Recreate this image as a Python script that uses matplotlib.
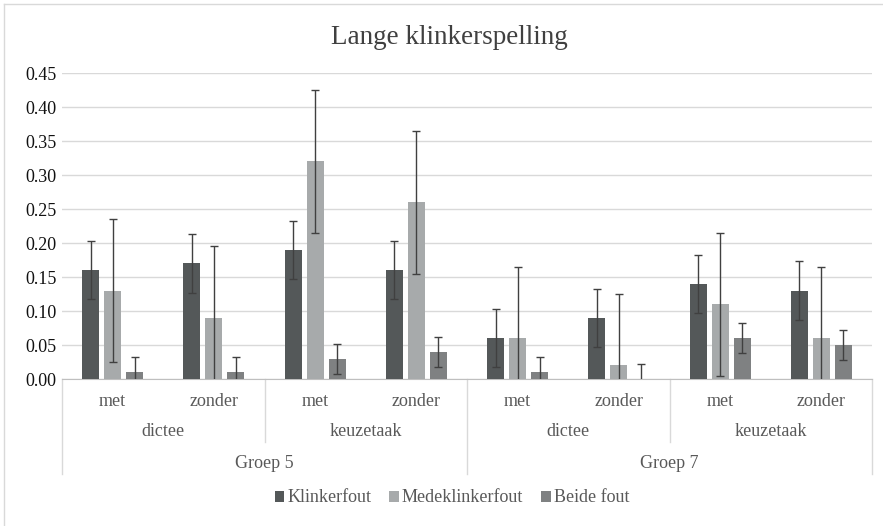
import numpy as np
import matplotlib
matplotlib.use('Agg')
import matplotlib.pyplot as plt
from matplotlib.patches import Patch
from matplotlib.lines import Line2D

# Gegevens
groepen = ['Groep 5', 'Groep 7']
taken = ['dictee', 'keuzetaak']
condities = ['met', 'zonder']
series = ['Klinkerfout', 'Medeklinkerfout', 'Beide fout']

klinkerfout = [0.16, 0.17, 0.19, 0.16, 0.06, 0.09, 0.14, 0.13]
medeklinkerfout = [0.13, 0.09, 0.32, 0.26, 0.06, 0.02, 0.11, 0.06]
beide_fout = [0.01, 0.01, 0.03, 0.04, 0.01, 0.00, 0.06, 0.05]

fout_klinker = [0.043] * 8
fout_medeklinker = [0.105] * 8
fout_beide = [0.022] * 8

kleuren = ['#545859', '#a7aaab', '#7f8182']
tekstkleur = '#595959'
lijnkleur = '#d9d9d9'

plt.rcParams['font.family'] = ['Liberation Serif', 'DejaVu Serif']

fig = plt.figure(figsize=(8.83, 5.26), dpi=100)
ax = fig.add_axes([62 / 883, 1 - 379 / 526, 810 / 883, 306 / 526])

n = len(klinkerfout)
x = np.arange(n)
breedte = 0.168
stap = 0.217

waarden = [klinkerfout, medeklinkerfout, beide_fout]
fouten = [fout_klinker, fout_medeklinker, fout_beide]
for i, (vals, errs) in enumerate(zip(waarden, fouten)):
    pos = x + (i - 1) * stap
    ax.bar(pos, vals, breedte, color=kleuren[i], label=series[i], zorder=3)
    ax.errorbar(pos, vals, yerr=errs, fmt='none', ecolor='#404040',
                elinewidth=1, capsize=3, capthick=1, zorder=4)

ax.set_xlim(-0.5, n - 0.5)
ax.set_ylim(0, 0.45)
ax.set_yticks(np.arange(0, 0.451, 0.05))
ax.set_yticklabels([f'{v:.2f}' for v in np.arange(0, 0.451, 0.05)])
ax.tick_params(axis='y', length=0, labelsize=13, labelcolor='#111111', pad=4)
ax.set_xticks([])
ax.grid(axis='y', color=lijnkleur, linewidth=1, zorder=0)
for kant in ['left', 'right', 'top']:
    ax.spines[kant].set_visible(False)
ax.spines['bottom'].set_color('#bfbfbf')

# Hierarchische as onder de grafiek
px = 1 / 306.0  # as-eenheden per pixel
trans = ax.get_xaxis_transform()
for i in range(n):
    ax.text(i, -22 * px, condities[i % 2], transform=trans, ha='center',
            va='center', fontsize=13, color=tekstkleur)
for j in range(4):
    ax.text(2 * j + 0.5, -53 * px, taken[j % 2], transform=trans, ha='center',
            va='center', fontsize=13, color=tekstkleur)
for k in range(2):
    ax.text(4 * k + 1.5, -84 * px, groepen[k], transform=trans, ha='center',
            va='center', fontsize=13, color=tekstkleur)

for xs in [-0.5, 3.5, 7.5]:
    ax.add_line(Line2D([xs, xs], [0, -95 * px], transform=trans, color=lijnkleur,
                       linewidth=1, clip_on=False))
for xs in [1.5, 5.5]:
    ax.add_line(Line2D([xs, xs], [0, -63 * px], transform=trans, color=lijnkleur,
                       linewidth=1, clip_on=False))

fig.text(449 / 883, 1 - 37 / 526, 'Lange klinkerspelling', ha='center',
         va='center', fontsize=19.5, color='#404040')

handles = [Patch(facecolor=c, edgecolor='none') for c in kleuren]
fig.legend(handles, series, loc='center', bbox_to_anchor=(452 / 883, 1 - 498 / 526),
           ncol=3, frameon=False, fontsize=13, handlelength=0.55, handleheight=0.55,
           handletextpad=0.15, columnspacing=1.0, labelcolor=tekstkleur)

# Rand van de figuur (boven en links)
fig.add_artist(Line2D([4 / 883, 1], [1 - 4 / 526, 1 - 4 / 526], transform=fig.transFigure,
                      color=lijnkleur, linewidth=1))
fig.add_artist(Line2D([4 / 883, 4 / 883], [0, 1 - 4 / 526], transform=fig.transFigure,
                      color=lijnkleur, linewidth=1))

fig.savefig('out.png', dpi=100)
